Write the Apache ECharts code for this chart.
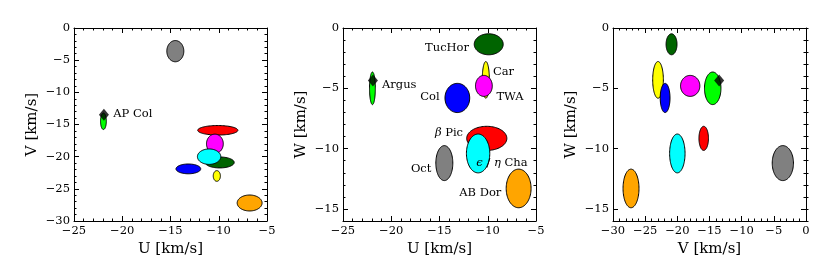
<!DOCTYPE html>
<html>
<head>
<meta charset="utf-8">
<script src="https://cdn.jsdelivr.net/npm/echarts@6/dist/echarts.min.js"></script>
<style>html,body{margin:0;padding:0;background:#fff}#c{width:830px;height:277px}</style>
</head>
<body>
<div id="c"></div>
<script>
// ---- data ----
const groups = ['Oct', 'TucHor', 'Car', 'β Pic', 'TWA', 'Col', 'ε Cha', 'AB Dor', 'Argus'];
const colors = ['#808080', '#006400', '#ffff00', '#ff0000', '#ff00ff', '#0000ff', '#00ffff', '#ffa500', '#00ff00'];
const U  = [-14.5, -9.9, -10.2, -10.1, -10.4, -13.15, -11.0, -6.8, -21.95];
const V  = [-3.6, -20.9, -23.0, -15.9, -18.0, -21.9, -20.0, -27.2, -14.5];
const W  = [-11.2, -1.35, -4.3, -9.15, -4.8, -5.8, -10.4, -13.3, -5.0];
const sU = [0.88, 1.5, 0.37, 2.08, 0.87, 1.28, 1.21, 1.29, 0.3];
const sV = [1.65, 0.85, 0.83, 0.74, 1.5, 0.76, 1.2, 1.24, 1.28];
const sW = [1.45, 0.87, 1.52, 1.0, 0.87, 1.21, 1.61, 1.6, 1.35];
// AP Col star
const apU = -21.9, apV = -13.5, apW = -4.35;
// labels in U-W panel
const labText  = ['TucHor', 'Car', 'Argus', 'Col', 'TWA', '{g|β} Pic', '{g|ϵ} / {g|η} Cha', 'Oct', 'AB Dor'];
const labU     = [-11.94, -9.46, -20.96, -14.98, -9.1, -12.56, -11.18, -15.84, -8.59];
const labW     = [-1.63, -3.62, -4.7, -5.7, -5.7, -8.68, -11.22, -11.69, -13.7];
const labAlign = ['right', 'left', 'left', 'right', 'left', 'right', 'left', 'right', 'right'];
const apLabel = {text: 'AP Col', u: -20.93, v: -13.42};
// axis ranges / ticks
const uRange = [-25, -5], vRange = [-30, 0], wRange = [-16, 0];
const wTicks = [-15, -10, -5, 0];

// ---- helpers ----
const FONT = 'DejaVu Serif';
const lineStyle = {color: '#000', width: 1};
function baseAxis(gi, pos, range, showLabel, name) {
  const ax = {
    type: 'value', gridIndex: gi, position: pos, min: range[0], max: range[1], interval: 5,
    axisLine: {show: true, onZero: false, lineStyle},
    axisTick: {show: true, inside: true, length: 5, lineStyle},
    minorTick: {show: true, splitNumber: 5, length: 2.5, lineStyle},
    splitLine: {show: false}, minorSplitLine: {show: false},
    axisLabel: {show: showLabel, fontFamily: FONT, fontSize: 11.5, color: '#000', margin: 4,
      formatter: v => (v < 0 ? '\u2212' + (-v) : '' + v)},
    name: showLabel ? name : '', nameLocation: 'middle',
    nameTextStyle: {fontFamily: FONT, fontSize: 15, color: '#000'}
  };
  return ax;
}
function wAxis(gi, pos, showLabel, name) {
  const ax = baseAxis(gi, pos, wRange, showLabel, name);
  delete ax.interval;
  ax.axisTick.customValues = wTicks;
  ax.axisLabel.customValues = wTicks;
  ax.minorTick = {show: false};
  return ax;
}
function wMinor(gi, pos) {
  return {
    type: 'value', gridIndex: gi, position: pos, min: wRange[0], max: wRange[1], interval: 1,
    axisLine: {show: false}, axisLabel: {show: false}, splitLine: {show: false},
    axisTick: {show: true, inside: true, length: 2.5, lineStyle}
  };
}

const grids = [
  {left: 74, top: 28, width: 193, height: 193},
  {left: 343, top: 28, width: 193, height: 193},
  {left: 613, top: 28, width: 193, height: 193}
];

const xAxis = [];
const yAxis = [];
// panel 0: U-V
xAxis.push(Object.assign(baseAxis(0, 'bottom', uRange, true, 'U [km/s]'), {nameGap: 18}));
xAxis.push(baseAxis(0, 'top', uRange, false));
yAxis.push(Object.assign(baseAxis(0, 'left', vRange, true, 'V [km/s]'), {nameGap: 34}));
yAxis.push(baseAxis(0, 'right', vRange, false));
// panel 1: U-W
xAxis.push(Object.assign(baseAxis(1, 'bottom', uRange, true, 'U [km/s]'), {nameGap: 18}));
xAxis.push(baseAxis(1, 'top', uRange, false));
yAxis.push(Object.assign(wAxis(1, 'left', true, 'W [km/s]'), {nameGap: 34}));
yAxis.push(wAxis(1, 'right', false));
yAxis.push(wMinor(1, 'left'));
yAxis.push(wMinor(1, 'right'));
// panel 2: V-W
xAxis.push(Object.assign(baseAxis(2, 'bottom', vRange, true, 'V [km/s]'), {nameGap: 18}));
xAxis.push(baseAxis(2, 'top', vRange, false));
yAxis.push(Object.assign(wAxis(2, 'left', true, 'W [km/s]'), {nameGap: 34}));
yAxis.push(wAxis(2, 'right', false));
yAxis.push(wMinor(2, 'left'));
yAxis.push(wMinor(2, 'right'));

function ellipseData(X, Y, SX, SY) {
  return groups.map((g, i) => [X[i], Y[i], SX[i], SY[i], i]);
}
function renderEllipse(params, api) {
  const cx = api.value(0), cy = api.value(1), rx = api.value(2), ry = api.value(3), ci = api.value(4);
  const pts = [];
  const N = 90;
  for (let k = 0; k < N; k++) {
    const t = 2 * Math.PI * k / N;
    pts.push(api.coord([cx + rx * Math.cos(t), cy + ry * Math.sin(t)]));
  }
  return {type: 'polygon', shape: {points: pts}, style: {fill: colors[ci], stroke: '#000', lineWidth: 1}};
}
function ellipseSeries(xi, yi, data) {
  return {type: 'custom', xAxisIndex: xi, yAxisIndex: yi, renderItem: renderEllipse, data, z: 2, clip: true, silent: true};
}
function diamondSeries(xi, yi, pt) {
  return {type: 'scatter', xAxisIndex: xi, yAxisIndex: yi, data: [pt], symbol: 'diamond', symbolSize: [10, 12],
    itemStyle: {color: '#000'}, z: 4, silent: true};
}
function labelSeries(xi, yi, data) {
  return {
    type: 'custom', xAxisIndex: xi, yAxisIndex: yi, z: 5, silent: true, data,
    renderItem: function (params, api) {
      const d = data[params.dataIndex];
      const p = api.coord([d[0], d[1]]);
      return {type: 'text', x: p[0], y: p[1], style: {
        text: d[2], align: d[3], verticalAlign: 'middle', fontFamily: FONT, fontSize: 11.5, fill: '#000',
        rich: {g: {fontStyle: 'italic', fontFamily: FONT, fontSize: 11.5, fill: '#000'}}
      }};
    }
  };
}

const series = [
  ellipseSeries(0, 0, ellipseData(U, V, sU, sV)),
  diamondSeries(0, 0, [apU, apV]),
  labelSeries(0, 0, [[apLabel.u, apLabel.v, apLabel.text, 'left']]),
  ellipseSeries(2, 2, ellipseData(U, W, sU, sW)),
  diamondSeries(2, 2, [apU, apW]),
  labelSeries(2, 2, labText.map((t, i) => [labU[i], labW[i], t, labAlign[i]])),
  ellipseSeries(4, 6, ellipseData(V, W, sV, sW)),
  diamondSeries(4, 6, [apV, apW])
];

const chart = echarts.init(document.getElementById('c'), null, {renderer: 'canvas'});
chart.setOption({animation: false, backgroundColor: '#fff', grid: grids, xAxis, yAxis, series});
</script>
</body>
</html>
